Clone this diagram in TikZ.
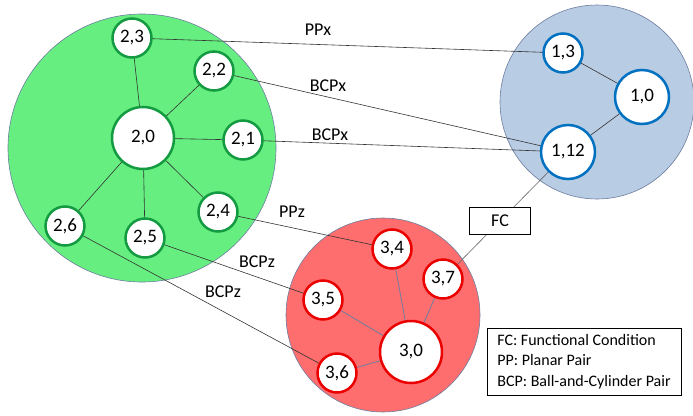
\documentclass[tikz,border=0pt]{standalone}
\usepackage{fontspec}
\setmainfont{Carlito}
\usetikzlibrary{backgrounds}

\definecolor{grpfill}{RGB}{102,238,128}
\definecolor{grpline}{RGB}{20,155,65}
\definecolor{bluefill}{RGB}{184,204,228}
\definecolor{blueline}{RGB}{0,112,192}
\definecolor{redfill}{RGB}{255,110,110}
\definecolor{redline}{RGB}{235,0,0}
\definecolor{ringgray}{RGB}{110,125,160}

\begin{document}
\begin{tikzpicture}[x=1pt, y=-1pt,
  inner sep=0pt, outer sep=0pt,%
  part node/.style={circle,draw=#1,line width=2.5pt,fill=white,minimum size=39pt,
    font=\fontsize{19}{19}\selectfont},
  base node/.style={part node=#1,minimum size=62pt},
  group/.style={draw=ringgray,line width=0.6pt,fill=#1},
  link/.style={black!80,line width=0.6pt},
  inlink/.style={ringgray,line width=0.8pt},
  lbl/.style={font=\fontsize{18}{18}\selectfont},
  box/.style={draw,line width=0.6pt,fill=white,font=\fontsize{16}{20.5}\selectfont}]

\useasboundingbox (0,0) rectangle (693,415);

% part 2
\node[base node=grpline] (n20) at (143,138) {2,0};
\node[part node=grpline] (n23) at (132,38) {2,3};
\node[part node=grpline] (n22) at (214,71) {2,2};
\node[part node=grpline] (n21) at (243,140) {2,1};
\node[part node=grpline] (n24) at (218,212) {2,4};
\node[part node=grpline] (n25) at (145,238) {2,5};
\node[part node=grpline] (n26) at (65,226) {2,6};

% part 1
\node[part node=blueline,minimum size=54pt] (n10) at (642,97) {1,0};
\node[part node=blueline] (n13) at (563,53) {1,3};
\node[part node=blueline,minimum size=54pt] (n112) at (568,152) {1,12};

% part 3
\node[base node=redline] (n30) at (411,352) {3,0};
\node[part node=redline] (n34) at (392,249) {3,4};
\node[part node=redline] (n37) at (443,279) {3,7};
\node[part node=redline] (n35) at (323,300) {3,5};
\node[part node=redline] (n36) at (337,373) {3,6};

\node[box,minimum width=61pt,minimum height=27pt,font=\fontsize{18}{18}\selectfont] (fc) at (500,221) {FC};

\node[box,minimum width=194pt,minimum height=67pt,align=left,anchor=north west,
  inner xsep=7pt] (legend) at (487,328)
  {FC: Functional Condition\\PP: Planar Pair\\BCP: Ball-and-Cylinder Pair};

\begin{pgfonlayer}{background}
\draw[group=grpfill] (142,148) circle (134);
\draw[group=bluefill] (597,102) circle (97);
\draw[group=redfill] (383,315) circle (97);

\foreach \k in {21,22,23,24,25,26} \draw[link] (n20) -- (n\k);
\draw[link] (n10) -- (n13);
\draw[link] (n10) -- (n112);
\foreach \k in {34,35,36,37} \draw[inlink] (n30) -- (n\k);

\draw[link] (n23) -- (n13);
\draw[link] (n22) -- (n112);
\draw[link] (n21) -- (n112);
\draw[link] (n24) -- (n34);
\draw[link] (n25) -- (n35);
\draw[link] (n26) -- (n36);
\draw[black!60,line width=0.6pt] (n112) -- (fc) -- (n37);
\end{pgfonlayer}

\node[lbl] (lppx) at (318,30) {PPx};
\node[lbl] (lbcpa) at (328,86) {BCPx};
\node[lbl] (lbcpb) at (330,135) {BCPx};
\node[lbl] (lppz) at (292,212) {PPz};
\node[lbl] (lbcpc) at (257,262) {BCPz};
\node[lbl] (lbcpd) at (223,292) {BCPz};

\end{tikzpicture}
\end{document}
